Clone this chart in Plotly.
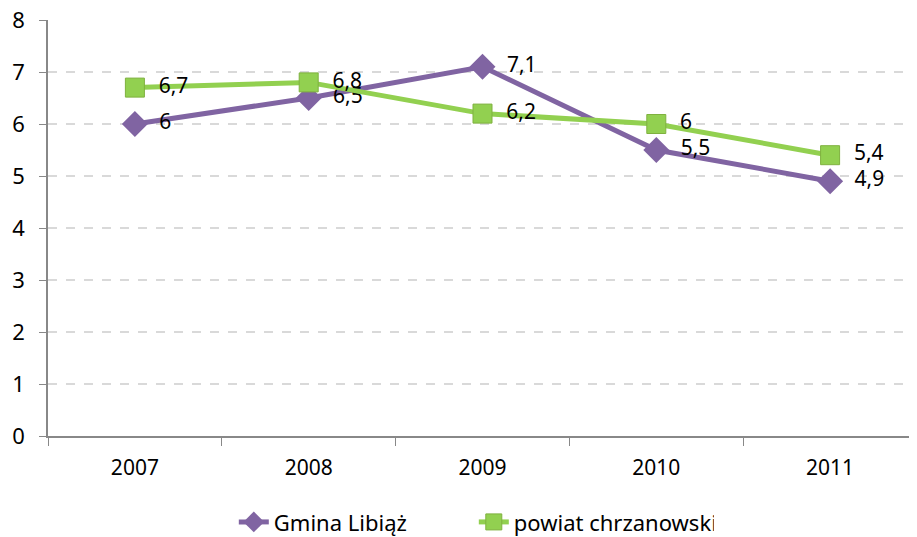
import plotly.graph_objects as go

# dane
years = ["2007", "2008", "2009", "2010", "2011"]
gmina = [6, 6.5, 7.1, 5.5, 4.9]
powiat = [6.7, 6.8, 6.2, 6, 5.4]

FONT = "Noto Sans"

def fmt(v):
    # przecinek dziesiętny + odstęp od znacznika
    return "  " + f"{v:g}".replace(".", ",")

fig = go.Figure()

fig.add_trace(go.Scatter(
    x=years, y=gmina, name="Gmina Libiąż",
    mode="lines+markers+text",
    line=dict(color="#8064A2", width=5),
    marker=dict(symbol="diamond", size=20, color="#8064A2"),
    text=[fmt(v) for v in gmina],
    textposition="middle right",
    textfont=dict(size=21, color="black", family=FONT),
    cliponaxis=False,
))

fig.add_trace(go.Scatter(
    x=years, y=powiat, name="powiat chrzanowski",
    mode="lines+markers+text",
    line=dict(color="#92D050", width=5),
    marker=dict(symbol="square", size=19, color="#92D050",
                line=dict(color="#7FB13F", width=1)),
    text=[fmt(v) for v in powiat],
    textposition="middle right",
    textfont=dict(size=21, color="black", family=FONT),
    cliponaxis=False,
))

# strona ma 8px marginesu body, więc wykres jest o tyle mniejszy
fig.update_layout(
    width=909, height=529,
    margin=dict(l=40, r=0, t=12, b=101, autoexpand=False),
    plot_bgcolor="white",
    paper_bgcolor="white",
    font=dict(family=FONT, color="black"),
    legend=dict(orientation="h", x=0.49, xanchor="center",
                y=-0.207, yanchor="middle",
                entrywidth=195,
                font=dict(size=22, family=FONT)),
)

fig.update_xaxes(
    type="category",
    range=[-0.5, 4.5],
    showline=True, linecolor="#888888", linewidth=1.5,
    ticks="outside", tickson="boundaries", ticklen=8, tickcolor="#888888",
    tickfont=dict(size=21),
    ticklabelstandoff=12,
    showgrid=False,
)

fig.update_yaxes(
    range=[0, 8], dtick=1,
    showline=True, linecolor="#888888", linewidth=1.5,
    ticks="outside", ticklen=7, tickcolor="#888888",
    tickfont=dict(size=22),
    ticklabelstandoff=10,
    ticklabeloverflow="allow",
    gridcolor="#D9D9D9", griddash="dash", gridwidth=1.5,
    zeroline=False,
)

fig.write_html("out.html")
